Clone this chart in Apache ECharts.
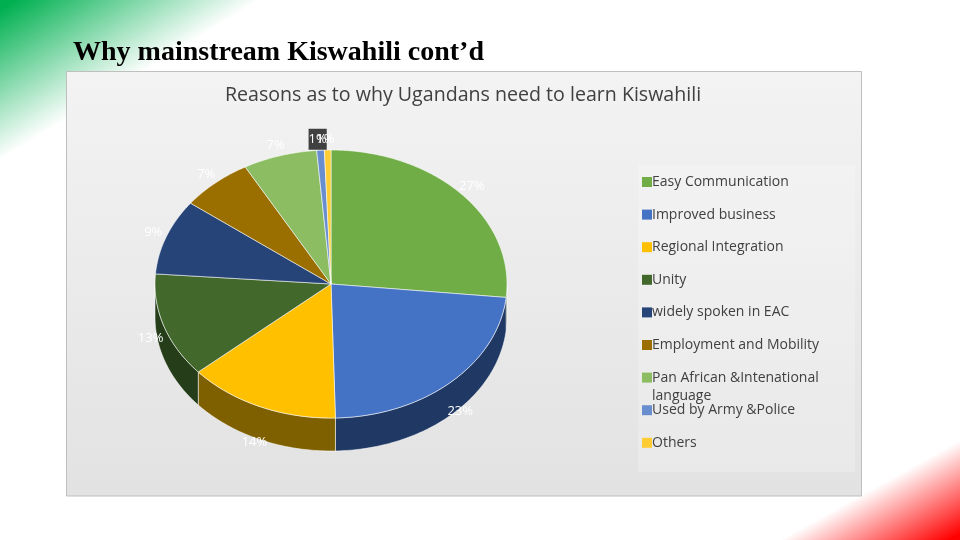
<!DOCTYPE html>
<html>
<head>
<meta charset="utf-8">
<title>Kiswahili</title>
<script src="https://cdn.jsdelivr.net/npm/echarts@6/dist/echarts.min.js"></script>
<style>
html, body { margin: 0; padding: 0; background: #fff; }
#chart { width: 960px; height: 540px; }
</style>
</head>
<body>
<div id="chart"></div>
<script>
// 数据
var categories = ['Easy Communication', 'Improved business', 'Regional Integration', 'Unity', 'widely spoken in EAC', 'Employment and Mobility', 'Pan African &Intenational language', 'Used by Army &Police', 'Others'];
var shares = [26.6, 23, 14, 12.6, 9.1, 6.6, 6.8, 0.7, 0.6];
var colors = ['#70ad47', '#4472c4', '#ffc000', '#43682b', '#264478', '#9a6f00', '#8cbd63', '#698ed0', '#ffcd33'];
var wallColors = ['#385723', '#203864', '#7f6000', '#263d1a', '#13223c', '#4d3800', '#46603a', '#354768', '#806619'];

var myChart = echarts.init(document.getElementById('chart'));

// pie geometry: top face is an ellipse, the wall hangs below it
var cx = 331, cy = 284, rx = 176, ry = 134, depth = 33;

function pointAt(deg, dy) {
    var a = deg * Math.PI / 180;
    return [cx + rx * Math.sin(a), cy - ry * Math.cos(a) + (dy || 0)];
}

function arcPoints(from, to, dy) {
    var pts = [];
    var steps = Math.max(2, Math.ceil(Math.abs(to - from)));
    for (var i = 0; i <= steps; i++) {
        pts.push(pointAt(from + (to - from) * i / steps, dy));
    }
    return pts;
}

function renderSlice(params, api) {
    var share = api.value(0);
    var start = api.value(1);
    var t0 = start * 3.6, t1 = (start + share) * 3.6;
    var mid = (t0 + t1) / 2;
    var children = [];

    // wall, only the front half of the rim shows
    var w0 = Math.max(t0, 90), w1 = Math.min(t1, 270);
    if (w1 > w0) {
        children.push({
            type: 'polygon',
            shape: { points: arcPoints(w0, w1, 0).concat(arcPoints(w1, w0, depth)) },
            style: { fill: wallColors[params.seriesIndex], stroke: 'rgba(255,255,255,0.75)', lineWidth: 0.7 }
        });
    }

    // top face
    children.push({
        type: 'polygon',
        shape: { points: [[cx, cy]].concat(arcPoints(t0, t1, 0)) },
        style: { fill: colors[params.seriesIndex], stroke: 'rgba(255,255,255,0.8)', lineWidth: 0.7 }
    });

    // percent label, the two tiny slices collide and the first one gets a dark box
    var a = mid * Math.PI / 180;
    var lower = Math.cos(a) < 0 ? -Math.cos(a) * 28 : 0;
    var tiny = share < 1;
    var boxed = tiny && share > 0.65;
    children.push({
        type: 'text',
        z2: tiny ? 20 : 10,
        x: cx + 190 * Math.sin(a) - (tiny ? 2 : 0),
        y: cy - 145 * Math.cos(a) + lower,
        style: {
            text: Math.round(share) + '%',
            fill: '#fff',
            font: '13px "Open Sans"',
            align: 'center',
            verticalAlign: 'middle',
            backgroundColor: boxed ? '#404040' : null,
            padding: boxed ? [4, 0, 4, 0] : 0
        }
    });
    return { type: 'group', children: children };
}

var series = [];
var running = 0;
categories.forEach(function (name, i) {
    series.push({
        name: name,
        type: 'custom',
        coordinateSystem: 'none',
        renderItem: renderSlice,
        itemStyle: { color: colors[i] },
        data: [[shares[i], running]],
        animation: false,
        silent: true
    });
    running += shares[i];
});

// corner gradient helper
function cornerFill(x, y, x2, y2, c) {
    return {
        type: 'linear', x: x, y: y, x2: x2, y2: y2, global: true,
        colorStops: [{ offset: 0, color: c }, { offset: 0.06, color: c }, { offset: 1, color: '#ffffff' }]
    };
}

var option = {
    animation: false,
    backgroundColor: '#fff',
    title: [
        {
            text: 'Why mainstream Kiswahili cont\u2019d',
            left: 73, top: 39, padding: 0,
            textStyle: { fontFamily: 'Liberation Serif', fontSize: 28, fontWeight: 'bold', color: '#000' }
        },
        {
            text: 'Reasons as to why Ugandans need to learn Kiswahili',
            left: 225, top: 85, padding: 0,
            textStyle: { fontFamily: 'Open Sans', fontSize: 19.6, fontWeight: 500, color: '#404040' }
        }
    ],
    legend: {
        orient: 'vertical',
        left: 642,
        top: 174,
        padding: 0,
        icon: 'rect',
        itemWidth: 10,
        itemHeight: 10,
        itemGap: 16.6,
        selectedMode: false,
        data: categories,
        formatter: function (name) {
            return name.replace(' language', '');
        },
        textStyle: { fontFamily: 'Open Sans', fontSize: 14, lineHeight: 16, color: '#404040', padding: [0, 0, 0, -5] }
    },
    graphic: [
        { type: 'polygon', silent: true, shape: { points: [[0, 0], [262, 0], [0, 160]] },
          style: { fill: cornerFill(0, 0, 71.5, 116.2, '#00b050') } },
        { type: 'polygon', silent: true, shape: { points: [[960, 540], [780, 540], [960, 440]] },
          style: { fill: cornerFill(960, 540, 917.6, 463.6, '#ff0000') } },
        { type: 'rect', silent: true, shape: { x: 66.5, y: 71.5, width: 795, height: 424.5 },
          style: {
              fill: { type: 'linear', x: 0, y: 0, x2: 0, y2: 1, colorStops: [{ offset: 0, color: '#f3f3f3' }, { offset: 1, color: '#e2e2e2' }] },
              stroke: '#bfbfbf', lineWidth: 1
          } },
        { type: 'rect', silent: true, shape: { x: 638, y: 165, width: 217, height: 307 },
          style: { fill: 'rgba(255,255,255,0.22)' } },
        { type: 'text', silent: true, z: 10, x: 652, y: 396,
          style: { text: 'language', fill: '#404040', font: '14px "Open Sans"', verticalAlign: 'middle' } }
    ],
    series: series
};

myChart.setOption(option);
</script>
</body>
</html>
